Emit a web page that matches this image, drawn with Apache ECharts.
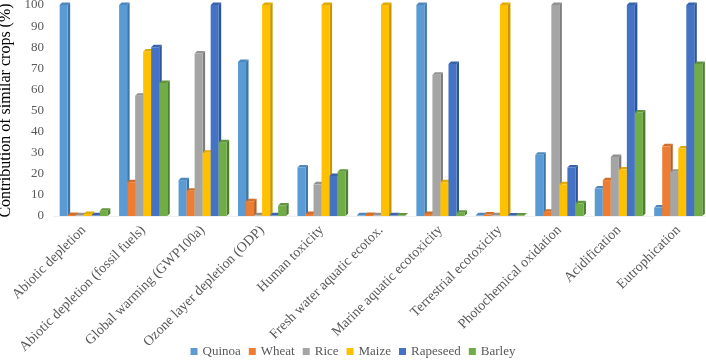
<!DOCTYPE html>
<html>
<head>
<meta charset="utf-8">
<script src="https://cdn.jsdelivr.net/npm/echarts@6/dist/echarts.min.js"></script>
<style>
    html, body { margin: 0; padding: 0; background: #fff; }
    #chart { width: 706px; height: 362px; }
</style>
</head>
<body>
<div id="chart"></div>
<script>
var categories = [
    'Abiotic depletion',
    'Abiotic depletion (fossil fuels)',
    'Global warming (GWP100a)',
    'Ozone layer depletion (ODP)',
    'Human toxicity',
    'Fresh water aquatic ecotox.',
    'Marine aquatic ecotoxicity',
    'Terrestrial ecotoxicity',
    'Photochemical oxidation',
    'Acidification',
    'Eutrophication'
];
var quinoa   = [100, 100, 17, 73, 23, 0.3, 100, 0.3, 29, 13, 4];
var wheat    = [0.5, 16, 12, 7, 1, 0.5, 1, 0.7, 2, 17, 33];
var rice     = [0.3, 57, 77, 0.3, 15, 0.3, 67, 0.3, 100, 28, 21];
var maize    = [1, 78, 30, 100, 100, 100, 16, 100, 15, 22, 32];
var rapeseed = [0.3, 80, 100, 0.3, 19, 0.3, 72, 0.2, 23, 100, 100];
var barley   = [2.5, 63, 35, 5, 21, 0.2, 1.5, 0.2, 6, 49, 72];

var seriesNames = ['Quinoa', 'Wheat', 'Rice', 'Maize', 'Rapeseed', 'Barley'];
var seriesData = [quinoa, wheat, rice, maize, rapeseed, barley];
var colors = ['#5B9BD5', '#ED7D31', '#A5A5A5', '#FFC000', '#4472C4', '#70AD47'];
var sideColors = ['#3E76A8', '#B85F22', '#7E7E7E', '#C79600', '#2F5597', '#4F7E31'];
var topColors = ['#4C87BE', '#D16E2A', '#929292', '#E3AA00', '#3A63AE', '#61963C'];

var chart = echarts.init(document.getElementById('chart'));

// 3D-ish bar: front face + darker side + top
function makeRender(idx) {
    return function (params, api) {
        var cat = api.value(0);
        var val = api.value(1);
        var base = api.coord([cat, 0]);
        var top = api.coord([cat, val]);
        var band = api.size([1, 0])[0];
        var w = band * 0.135;
        var d = 2.5;
        var x0 = base[0] - w * 3 + w * idx;
        return {
            type: 'group',
            children: [
                {
                    type: 'polygon',
                    shape: { points: [[x0 + w, top[1]], [x0 + w + d, top[1] - d], [x0 + w + d, base[1] - d], [x0 + w, base[1]]] },
                    style: { fill: sideColors[idx] }
                },
                {
                    type: 'polygon',
                    shape: { points: [[x0, top[1]], [x0 + d, top[1] - d], [x0 + w + d, top[1] - d], [x0 + w, top[1]]] },
                    style: { fill: topColors[idx] }
                },
                {
                    type: 'rect',
                    shape: { x: x0, y: top[1], width: w, height: base[1] - top[1] },
                    style: { fill: colors[idx] }
                }
            ]
        };
    };
}

var series = [];
for (var s = 0; s < seriesNames.length; s++) {
    var pts = [];
    for (var i = 0; i < categories.length; i++) {
        pts.push([i, seriesData[s][i]]);
    }
    series.push({
        name: seriesNames[s],
        type: 'custom',
        renderItem: makeRender(s),
        itemStyle: { color: colors[s] },
        encode: { x: 0, y: 1 },
        data: pts
    });
}

var option = {
    animation: false,
    textStyle: { fontFamily: 'Liberation Serif' },
    legend: {
        data: seriesNames,
        top: 343,
        left: 'center',
        padding: 2,
        icon: 'rect',
        itemWidth: 7,
        itemHeight: 7,
        itemGap: 8,
        textStyle: { fontSize: 13, color: '#595959', fontFamily: 'Liberation Serif' }
    },
    grid: {
        left: 54,
        right: -2,
        top: 5,
        bottom: 146,
        outerBoundsMode: 'none',
        containLabel: false
    },
    xAxis: {
        type: 'category',
        data: categories,
        axisLine: { show: true, lineStyle: { color: '#EEEEEE' } },
        axisTick: { show: false },
        axisLabel: {
            rotate: 45,
            interval: 0,
            margin: 12,
            fontSize: 14,
            color: '#595959',
            fontFamily: 'Liberation Serif'
        }
    },
    yAxis: {
        type: 'value',
        min: 0,
        max: 100,
        interval: 10,
        name: 'Contribution of similar crops (%)',
        nameLocation: 'middle',
        nameRotate: 90,
        nameGap: 37,
        nameTextStyle: { fontSize: 16, color: '#000', fontFamily: 'Liberation Serif' },
        axisLine: { show: false },
        axisTick: { show: false },
        splitLine: { show: false },
        axisLabel: { fontSize: 13, color: '#595959', margin: 10, fontFamily: 'Liberation Serif' }
    },
    series: series
};
chart.setOption(option);
</script>
</body>
</html>
